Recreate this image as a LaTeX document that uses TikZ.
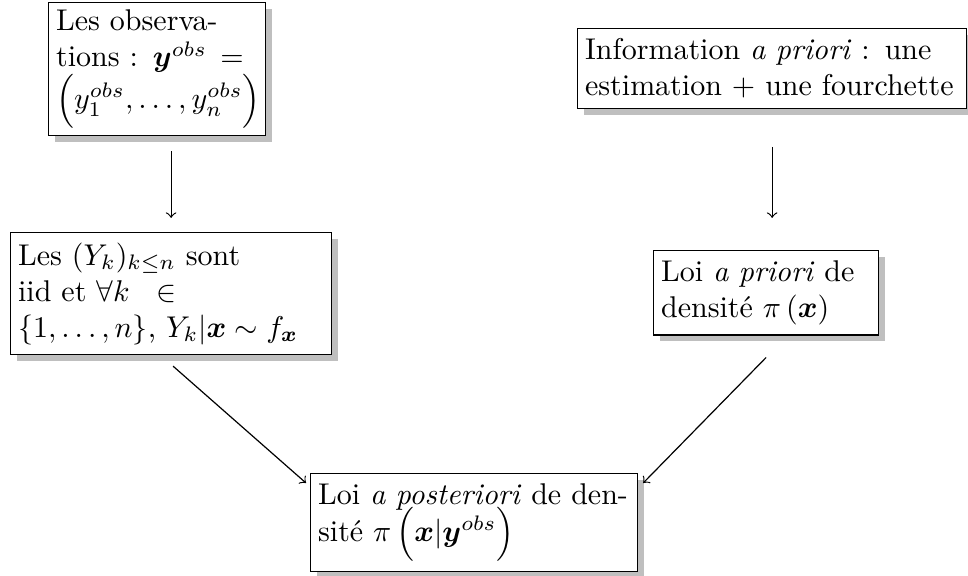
\documentclass[tikz,border=0pt]{standalone}
\usepackage{amsmath,bm}
\usetikzlibrary{shadows}
\begin{document}
\begin{tikzpicture}[x=0.33333pt,y=-0.33333pt,
  box/.style={draw, fill=white, drop shadow, align=left, anchor=north west, inner xsep=2.5pt, inner ysep=3.33pt},
  arr/.style={->}]
\useasboundingbox (0,0) rectangle (968,576);
\node[box, text width=67.3pt, inner ysep=2.5pt] (b1) at (48,2)
  {Les observa-\\ tions : $\bm{y}^{obs}\,=$\\[-0.5pt] $\Bigl(y_1^{obs},\ldots,y_n^{obs}\Bigr)$};
\node[box, text width=124.7pt] (b2) at (577,28)
  {Information \emph{a priori} : une\\ estimation $+$ une fourchette};
\node[box, text width=102pt] (b3) at (10,232)
  {Les $(Y_k)_{k\leq n}$ sont\\ iid et $\forall k\hspace{6pt}\in$\\ $\{1,\ldots,n\}$, $Y_k|\bm{x}\sim f_{\bm{x}}$};
\node[box, text width=70pt] (b4) at (653,250)
  {Loi \emph{a priori} de\\ densit\'e $\pi\left(\bm{x}\right)$};
\node[box, text width=104pt] (b5) at (310,473)
  {Loi \emph{a posteriori} de den-\\[-2pt] sit\'e $\pi\,\Bigl(\bm{x}|\bm{y}^{obs}\Bigr)$};
\draw[arr, shorten <=5pt, shorten >=4.7pt] (b1.south -| b3.north) -- (b3.north);
\draw[arr, shorten <=12.7pt, shorten >=10.7pt] (b2.south) -- (b2.south |- b4.north);
\coordinate (e5w) at ([shift={(-4,10)}]b5.north west);
\coordinate (e5e) at ([shift={(5,10)}]b5.north east);
\draw[arr] ([shift={(2,11)}]b3.south) -- (e5w);
\draw[arr] ([shift={(0,22)}]b4.south) -- (e5e);
\end{tikzpicture}
\end{document}
